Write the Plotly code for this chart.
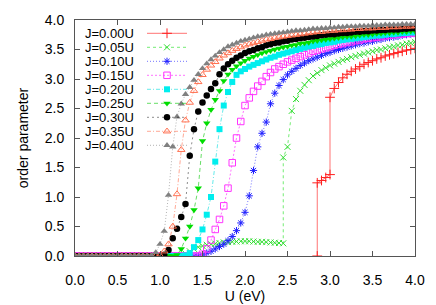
import plotly.graph_objects as go

# ---------------- data ----------------
U_GRID = [0.00, 0.05, 0.10, 0.15, 0.20, 0.25, 0.30, 0.35, 0.40, 0.45,
          0.50, 0.55, 0.60, 0.65, 0.70, 0.75, 0.80, 0.85, 0.90, 0.95,
          1.00, 1.05, 1.10, 1.15, 1.20, 1.25, 1.30, 1.35, 1.40, 1.45,
          1.50, 1.55, 1.60, 1.65, 1.70, 1.75, 1.80, 1.85, 1.90, 1.95,
          2.00, 2.05, 2.10, 2.15, 2.20, 2.25, 2.30, 2.35, 2.40, 2.45,
          2.50, 2.55, 2.60, 2.65, 2.70, 2.75, 2.80, 2.85, 2.90, 2.95,
          3.00, 3.05, 3.10, 3.15, 3.20, 3.25, 3.30, 3.35, 3.40, 3.45,
          3.50, 3.55, 3.60, 3.65, 3.70, 3.75, 3.80, 3.85, 3.90, 3.95,
          4.00]

# J = 0.00U (first-order jumps at 2.85 and 3.00)
U_J000 = [2.85, 2.85, 2.90, 2.95, 3.00, 3.00, 3.05, 3.10, 3.15, 3.20, 3.25,
          3.30, 3.35, 3.40, 3.45, 3.50, 3.55, 3.60, 3.65, 3.70, 3.75, 3.80,
          3.85, 3.90, 3.95, 4.00]
M_J000 = [0.00, 1.24, 1.28, 1.33, 1.38, 2.69, 2.84, 2.94, 3.02, 3.08, 3.13,
          3.17, 3.21, 3.25, 3.28, 3.31, 3.34, 3.36, 3.39, 3.41, 3.43, 3.45,
          3.47, 3.49, 3.50, 3.52]

# J = 0.05U (jump at 2.45)
U_J005 = U_GRID[:50] + U_GRID[49:]
M_J005 = [0, 0, 0, 0, 0, 0, 0, 0, 0, 0,
          0, 0, 0, 0, 0, 0, 0, 0, 0, 0,
          0, 0, 0, 0, 0, 0,
          0.04, 0.08, 0.12, 0.15, 0.17, 0.19, 0.20, 0.21, 0.22, 0.23,
          0.235, 0.24, 0.245, 0.25, 0.25, 0.25, 0.245, 0.24, 0.24, 0.235,
          0.23, 0.225, 0.22, 0.215,
          1.67, 1.85, 2.46, 2.66, 2.80, 2.90, 2.98, 3.05, 3.10, 3.15,
          3.19, 3.23, 3.26, 3.29, 3.32, 3.34, 3.37, 3.39, 3.41, 3.43,
          3.45, 3.47, 3.49, 3.50, 3.52, 3.54, 3.55, 3.57, 3.58, 3.60,
          3.61, 3.63]

M_J010 = [0, 0, 0, 0, 0, 0, 0, 0, 0, 0,
          0, 0, 0, 0, 0, 0, 0, 0, 0, 0,
          0, 0, 0, 0, 0, 0, 0, 0, 0, 0,
          0.02, 0.05, 0.08, 0.12, 0.16, 0.20, 0.26, 0.33, 0.43, 0.56,
          0.74, 1.02, 1.45, 1.85, 2.08, 2.27, 2.58, 2.76, 2.89, 2.99,
          3.07, 3.13, 3.18, 3.23, 3.27, 3.31, 3.34, 3.37, 3.40, 3.43,
          3.45, 3.48, 3.50, 3.52, 3.54, 3.56, 3.58, 3.60, 3.61, 3.63,
          3.64, 3.66, 3.67, 3.69, 3.70, 3.71, 3.72, 3.74, 3.75, 3.76,
          3.77]

M_J015 = [0, 0, 0, 0, 0, 0, 0, 0, 0, 0,
          0, 0, 0, 0, 0, 0, 0, 0, 0, 0,
          0, 0, 0, 0, 0, 0, 0, 0, 0, 0,
          0.03, 0.12, 0.27, 0.45, 0.62, 0.85, 1.15, 1.58, 2.00, 2.28,
          2.55, 2.68, 2.79, 2.88, 2.96, 3.04, 3.11, 3.17, 3.21, 3.25,
          3.29, 3.32, 3.35, 3.38, 3.41, 3.44, 3.47, 3.49, 3.51, 3.53,
          3.55, 3.57, 3.59, 3.60, 3.62, 3.63, 3.65, 3.66, 3.68, 3.69,
          3.70, 3.71, 3.72, 3.73, 3.74, 3.75, 3.76, 3.76, 3.77, 3.78,
          3.78]

M_J020 = [0, 0, 0, 0, 0, 0, 0, 0, 0, 0,
          0, 0, 0, 0, 0, 0, 0, 0, 0, 0,
          0, 0, 0, 0, 0, 0,
          0.01, 0.05, 0.15, 0.27,
          0.45, 0.70, 1.00, 1.60, 2.15, 2.55, 2.78, 2.95, 3.07, 3.13,
          3.17, 3.21, 3.24, 3.27, 3.30, 3.33, 3.36, 3.38, 3.41, 3.43,
          3.45, 3.47, 3.49, 3.51, 3.53, 3.55, 3.56, 3.58, 3.59, 3.61,
          3.62, 3.63, 3.65, 3.66, 3.67, 3.68, 3.69, 3.70, 3.71, 3.72,
          3.73, 3.74, 3.74, 3.75, 3.76, 3.76, 3.77, 3.78, 3.78, 3.79,
          3.79]

M_J025 = [0, 0, 0, 0, 0, 0, 0, 0, 0, 0,
          0, 0, 0, 0, 0, 0, 0, 0, 0, 0,
          0, 0, 0, 0,
          0.02, 0.12, 0.30, 0.50, 0.78, 1.15,
          1.95, 2.25, 2.48, 2.65, 2.80, 2.97, 3.08, 3.16, 3.22, 3.27,
          3.31, 3.35, 3.38, 3.41, 3.44, 3.46, 3.48, 3.50, 3.52, 3.54,
          3.55, 3.57, 3.58, 3.60, 3.61, 3.62, 3.64, 3.65, 3.66, 3.67,
          3.68, 3.69, 3.70, 3.71, 3.72, 3.72, 3.73, 3.74, 3.75, 3.75,
          3.76, 3.77, 3.77, 3.78, 3.78, 3.79, 3.79, 3.80, 3.80, 3.81,
          3.81]

M_J030 = [0, 0, 0, 0, 0, 0, 0, 0, 0, 0,
          0, 0, 0, 0, 0, 0, 0, 0, 0, 0,
          0,
          0.02, 0.10, 0.30, 0.46, 0.66, 0.88, 1.70, 2.15, 2.45,
          2.60, 2.72, 2.83, 2.93, 3.08, 3.18, 3.25, 3.31, 3.36, 3.40,
          3.44, 3.47, 3.49, 3.52, 3.54, 3.57, 3.59, 3.61, 3.62, 3.64,
          3.65, 3.67, 3.68, 3.69, 3.70, 3.71, 3.72, 3.73, 3.74, 3.75,
          3.76, 3.76, 3.77, 3.78, 3.78, 3.79, 3.80, 3.80, 3.81, 3.81,
          3.82, 3.82, 3.83, 3.83, 3.84, 3.84, 3.84, 3.85, 3.85, 3.86,
          3.86]

M_J035 = [0, 0, 0, 0, 0, 0, 0, 0, 0, 0,
          0, 0, 0, 0, 0, 0, 0, 0, 0, 0,
          0.01, 0.08, 0.20, 0.50, 1.05, 1.80, 2.30, 2.60, 2.80, 2.95,
          3.07, 3.16, 3.23, 3.29, 3.35, 3.40, 3.44, 3.48, 3.51, 3.54,
          3.57, 3.59, 3.61, 3.63, 3.65, 3.67, 3.68, 3.70, 3.71, 3.72,
          3.73, 3.74, 3.75, 3.76, 3.77, 3.78, 3.79, 3.80, 3.80, 3.81,
          3.82, 3.82, 3.83, 3.83, 3.84, 3.84, 3.85, 3.85, 3.86, 3.86,
          3.86, 3.87, 3.87, 3.87, 3.88, 3.88, 3.88, 3.89, 3.89, 3.89,
          3.90]

M_J040 = [0, 0, 0, 0, 0, 0, 0, 0, 0, 0,
          0, 0, 0, 0, 0, 0, 0, 0,
          0.01, 0.06,
          0.20, 0.42, 1.03, 1.85, 2.36, 2.58, 2.74, 2.86, 2.98, 3.08,
          3.18, 3.26, 3.33, 3.39, 3.45, 3.50, 3.55, 3.58, 3.61, 3.64,
          3.66, 3.68, 3.70, 3.72, 3.73, 3.75, 3.76, 3.77, 3.78, 3.79,
          3.80, 3.81, 3.82, 3.82, 3.83, 3.84, 3.85, 3.85, 3.86, 3.86,
          3.87, 3.87, 3.88, 3.88, 3.89, 3.89, 3.89, 3.90, 3.90, 3.90,
          3.91, 3.91, 3.91, 3.92, 3.92, 3.92, 3.92, 3.93, 3.93, 3.93,
          3.93]

SERIES_NAMES = ["J=0.00U", "J=0.05U", "J=0.10U", "J=0.15U", "J=0.20U",
                "J=0.25U", "J=0.30U", "J=0.35U", "J=0.40U"]
SERIES_U = [U_J000, U_J005, U_GRID, U_GRID, U_GRID, U_GRID, U_GRID, U_GRID, U_GRID]
SERIES_M = [M_J000, M_J005, M_J010, M_J015, M_J020, M_J025, M_J030, M_J035, M_J040]

X_TICKS = [0.0, 0.5, 1.0, 1.5, 2.0, 2.5, 3.0, 3.5, 4.0]
Y_TICKS = [0.0, 0.5, 1.0, 1.5, 2.0, 2.5, 3.0, 3.5, 4.0]

# ---------------- styles ----------------
STYLES = [
    dict(color="#ff2020", line="rgba(255,0,0,0.55)", dash="solid",
         symbol="cross-thin", size=7, open=True),
    dict(color="#33dd33", line="rgba(0,220,0,0.55)", dash="3px,3px",
         symbol="x-thin", size=6, open=True),
    dict(color="#2020ff", line="rgba(0,0,255,0.55)", dash="1px,2px",
         symbol="asterisk-open", size=6, open=True),
    dict(color="#ff33ff", line="rgba(255,0,255,0.55)", dash="2px,2px",
         symbol="square-open", size=6.5, open=True),
    dict(color="#00eeee", line="rgba(0,220,220,0.6)", dash="4px,2px,1px,2px",
         symbol="square", size=6, open=False),
    dict(color="#00dd00", line="rgba(0,200,0,0.6)", dash="4px,3px",
         symbol="triangle-down", size=6.5, open=False),
    dict(color="#000000", line="rgba(0,0,0,0.45)", dash="2px,3px",
         symbol="circle", size=6.5, open=False),
    dict(color="#ff7050", line="rgba(255,112,80,0.6)", dash="4px,2px,1px,2px",
         symbol="triangle-up-open", size=6.5, open=True),
    dict(color="#808080", line="rgba(128,128,128,0.6)", dash="1px,2px",
         symbol="triangle-up", size=6.5, open=False),
]

FONT = "Liberation Sans, Arial, Helvetica, sans-serif"

fig = go.Figure()


def marker_of(st):
    if st["open"]:
        return dict(symbol=st["symbol"], size=st["size"], color=st["color"],
                    line=dict(color=st["color"], width=1))
    return dict(symbol=st["symbol"], size=st["size"], color=st["color"],
                line=dict(width=0))


for name, u, m, st in zip(SERIES_NAMES, SERIES_U, SERIES_M, STYLES):
    fig.add_trace(go.Scatter(
        x=u, y=m, mode="lines+markers", name=name, showlegend=False,
        line=dict(color=st["line"], width=1, dash=st["dash"]),
        marker=marker_of(st), cliponaxis=True))

# ---------------- key (gnuplot style: text, then sample) ----------------
PLOT_W, PLOT_H = 340, 236
KEY_TEXT_RIGHT = 60
KEY_SAMPLE_X0, KEY_SAMPLE_X1 = 72, 112
KEY_ROW0, KEY_ROW_STEP = 13.3, 14.0

for i, (name, st) in enumerate(zip(SERIES_NAMES, STYLES)):
    row = KEY_ROW0 + KEY_ROW_STEP * i
    mid = (KEY_SAMPLE_X0 + KEY_SAMPLE_X1) / 2
    fig.add_trace(go.Scatter(
        x=[KEY_SAMPLE_X0, KEY_SAMPLE_X1], y=[row, row], mode="lines",
        xaxis="x2", yaxis="y2", showlegend=False, hoverinfo="skip",
        line=dict(color=st["line"], width=1, dash=st["dash"])))
    fig.add_trace(go.Scatter(
        x=[mid], y=[row], mode="markers", xaxis="x2", yaxis="y2",
        showlegend=False, hoverinfo="skip", marker=marker_of(st)))
    fig.add_annotation(x=KEY_TEXT_RIGHT, y=row, xref="x2", yref="y2",
                       text=name, showarrow=False, xanchor="right",
                       yanchor="middle", borderpad=0,
                       font=dict(family=FONT, size=13, color="black"))

axis_common = dict(showline=True, linecolor="#555555", linewidth=1,
                   mirror="ticks", ticks="inside", ticklen=5, tickwidth=1,
                   tickcolor="#555555", showgrid=False, zeroline=False,
                   automargin=False,
                   tickfont=dict(family=FONT, size=14, color="black"))

fig.update_layout(
    width=436, height=305,
    margin=dict(l=75, r=21, t=20, b=49, autoexpand=False),
    paper_bgcolor="white", plot_bgcolor="white",
    font=dict(family=FONT, size=14, color="black"),
    showlegend=False,
    xaxis=dict(range=[0, 4], tickvals=X_TICKS, tickformat=".1f",
               title=dict(text="U (eV)", standoff=4, font=dict(family=FONT, size=14)),
               ticklabelstandoff=11, **axis_common),
    yaxis=dict(range=[0, 4], tickvals=Y_TICKS, tickformat=".1f",
               title=dict(text="order parameter", standoff=12, font=dict(family=FONT, size=14)),
               ticklabelstandoff=7, **axis_common),
    xaxis2=dict(overlaying="x", anchor="y2", range=[0, PLOT_W], visible=False,
                fixedrange=True, automargin=False),
    yaxis2=dict(overlaying="y", anchor="x2", range=[PLOT_H, 0], visible=False,
                fixedrange=True, automargin=False),
)

fig.write_html("out.html",
               config={"displayModeBar": False},
               post_script="document.body.style.margin='0px';"
                           "document.body.style.padding='0px';")
